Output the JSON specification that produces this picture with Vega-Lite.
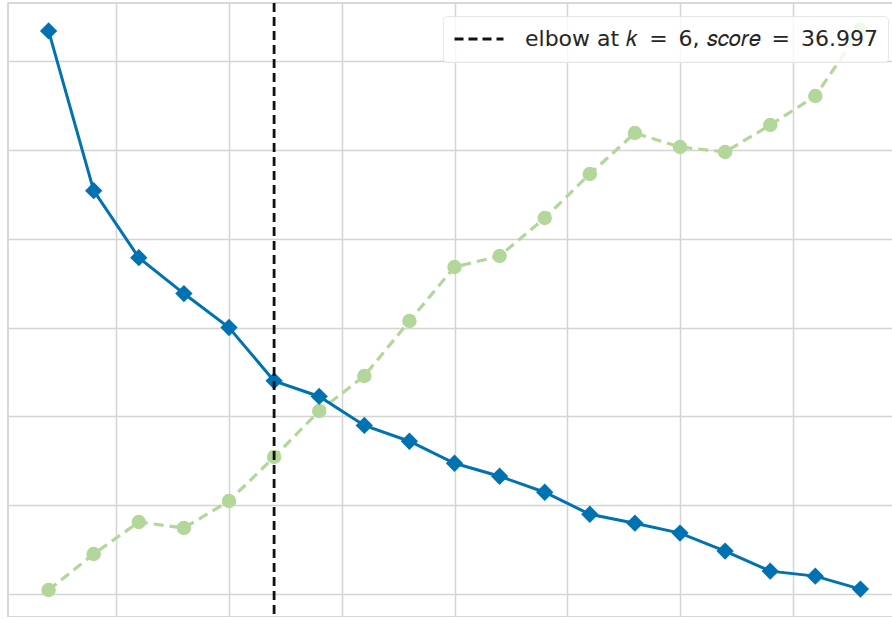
{
  "$schema": "https://vega.github.io/schema/vega-lite/v6.json",
  "width": 893,
  "height": 614,
  "autosize": {"type": "none"},
  "padding": {"left": 8, "top": 3, "right": 0, "bottom": 0},
  "background": "white",
  "config": {
    "view": {"stroke": "#cccccc", "strokeWidth": 1.5},
    "axis": {"gridColor": "#d4d4d4", "gridWidth": 1.5, "labels": false, "ticks": false, "domain": false, "title": null}
  },
  "datasets": {
    "scores": [
      {"k": 1, "distortion": 56.69, "fit_time": 0.0200},
      {"k": 2, "distortion": 47.70, "fit_time": 0.0380},
      {"k": 3, "distortion": 43.93, "fit_time": 0.0540},
      {"k": 4, "distortion": 41.91, "fit_time": 0.0510},
      {"k": 5, "distortion": 40.00, "fit_time": 0.0645},
      {"k": 6, "distortion": 36.997, "fit_time": 0.0865},
      {"k": 7, "distortion": 36.12, "fit_time": 0.1095},
      {"k": 8, "distortion": 34.49, "fit_time": 0.1270},
      {"k": 9, "distortion": 33.60, "fit_time": 0.1545},
      {"k": 10, "distortion": 32.36, "fit_time": 0.1815},
      {"k": 11, "distortion": 31.63, "fit_time": 0.1870},
      {"k": 12, "distortion": 30.73, "fit_time": 0.2060},
      {"k": 13, "distortion": 29.49, "fit_time": 0.2280},
      {"k": 14, "distortion": 28.99, "fit_time": 0.2485},
      {"k": 15, "distortion": 28.43, "fit_time": 0.2415},
      {"k": 16, "distortion": 27.42, "fit_time": 0.2390},
      {"k": 17, "distortion": 26.29, "fit_time": 0.2525},
      {"k": 18, "distortion": 26.01, "fit_time": 0.2670},
      {"k": 19, "distortion": 25.28, "fit_time": 0.3000}
    ],
    "elbow": [{"k": 6, "label": "elbow at 𝑘\u2002=\u20026, 𝑠𝑐𝑜𝑟𝑒\u2002=\u200236.997"}]
  },
  "layer": [
    {
      "data": {"name": "scores"},
      "encoding": {
        "x": {"field": "k", "type": "quantitative", "scale": {"domain": [0.1, 19.9], "nice": false, "zero": false},
              "axis": {"values": [2.5, 5, 7.5, 10, 12.5, 15, 17.5], "grid": true}},
        "y": {"field": "fit_time", "type": "quantitative", "scale": {"domain": [0.0065, 0.3135], "nice": false, "zero": false}, "axis": null}
      },
      "layer": [
        {"mark": {"type": "line", "color": "#b3d69b", "strokeWidth": 3.2, "strokeDash": [10, 6]}},
        {"mark": {"type": "point", "shape": "circle", "filled": true, "color": "#b3d69b", "size": 210, "opacity": 1}}
      ]
    },
    {
      "data": {"name": "scores"},
      "encoding": {
        "x": {"field": "k", "type": "quantitative", "scale": {"domain": [0.1, 19.9], "nice": false, "zero": false},
              "axis": {"values": [2.5, 5, 7.5, 10, 12.5, 15, 17.5], "grid": true}},
        "y": {"field": "distortion", "type": "quantitative", "scale": {"domain": [23.71, 58.26], "nice": false, "zero": false},
              "axis": {"values": [25, 30, 35, 40, 45, 50, 55], "grid": true}}
      },
      "layer": [
        {"mark": {"type": "line", "color": "#0072B2", "strokeWidth": 3}},
        {"mark": {"type": "point", "shape": "diamond", "filled": true, "color": "#0072B2", "size": 300, "opacity": 1}}
      ]
    },
    {
      "data": {"name": "elbow"},
      "mark": {"type": "rule", "strokeWidth": 2.8, "strokeDash": [9, 5]},
      "encoding": {
        "x": {"field": "k", "type": "quantitative", "scale": {"domain": [0.1, 19.9], "nice": false, "zero": false},
              "axis": {"values": [2.5, 5, 7.5, 10, 12.5, 15, 17.5], "grid": true}},
        "color": {
          "field": "label", "type": "nominal",
          "scale": {"range": ["#111111"]},
          "legend": {
            "title": null, "orient": "top-right", "offset": 13,
            "symbolType": "stroke", "symbolSize": 2400, "symbolStrokeWidth": 2.8, "symbolDash": [9, 5],
            "labelFont": "DejaVu Sans", "labelFontSize": 22, "labelColor": "#262626", "labelOffset": 20,
            "labelLimit": 600, "clipHeight": 26,
            "padding": 10, "fillColor": "rgba(255,255,255,0.8)", "strokeColor": "#e6e6e6", "cornerRadius": 4
          }
        }
      }
    }
  ],
  "resolve": {"scale": {"y": "independent"}}
}
